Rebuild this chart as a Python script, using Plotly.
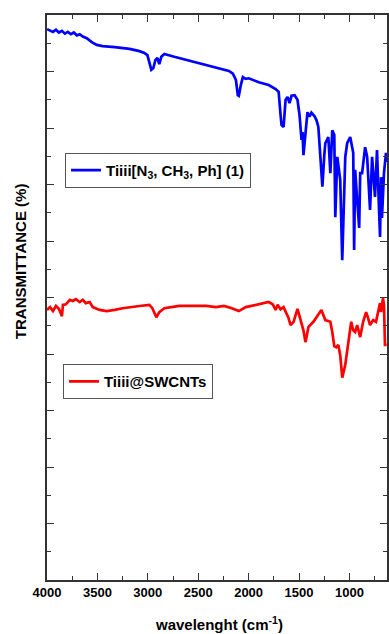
import plotly.graph_objects as go

# ---- data (wavenumber cm-1, transmittance a.u.) ----
blue_wn = [4000, 3970, 3941, 3911, 3882, 3852, 3822, 3793, 3763, 3734, 3704, 3675, 3645, 3606, 3556,
           3507, 3448, 3329, 3181, 3083, 3034, 3004, 2984, 2965, 2945, 2925, 2905, 2886, 2866, 2836,
           2738, 2590, 2442, 2294, 2195, 2156, 2126, 2107, 2097, 2077, 2057, 2028, 1998, 1899, 1801,
           1732, 1702, 1683, 1673, 1653, 1633, 1614, 1594, 1574, 1544, 1515, 1495, 1475, 1465, 1456,
           1436, 1416, 1396, 1377, 1347, 1327, 1308, 1288, 1268, 1249, 1239, 1209, 1189, 1170, 1150,
           1140, 1120, 1091, 1071, 1041, 1022, 992, 962, 953, 943, 923, 903, 893, 874, 844, 824, 795,
           775, 746, 726, 706, 696, 686, 677, 657, 637, 630]
blue_t = [97.5, 97.3, 97.0, 97.4, 96.9, 97.2, 96.7, 97.0, 96.6, 96.9, 96.4, 96.6, 96.2, 95.9, 95.2,
          94.7, 94.5, 94.3, 94.0, 93.6, 93.3, 92.9, 91.7, 90.3, 90.6, 92.0, 92.4, 91.3, 92.6, 93.1,
          92.6, 91.9, 91.2, 90.6, 90.1, 89.6, 88.5, 85.8, 85.7, 87.6, 89.0, 88.7, 88.8, 88.1, 87.6,
          86.9, 86.4, 82.3, 80.5, 80.2, 85.0, 85.5, 84.4, 85.7, 85.8, 85.0, 82.3, 77.9, 79.3, 75.2,
          79.6, 82.8, 82.0, 82.7, 82.1, 81.4, 80.2, 74.3, 69.6, 75.2, 77.3, 78.4, 72.0, 79.6, 78.8,
          64.2, 74.9, 70.8, 56.6, 74.9, 77.3, 78.4, 75.6, 58.4, 72.6, 67.3, 62.3, 72.0, 72.0, 76.6, 74.9, 65.5,
          74.9, 67.8, 76.1, 65.5, 60.7, 71.3, 64.1, 72.0, 75.6, 74.0]

red_wn = [4000, 3970, 3941, 3911, 3882, 3852, 3842, 3813, 3773, 3744, 3714, 3675, 3645, 3615, 3576,
          3546, 3477, 3408, 3329, 3250, 3083, 2984, 2955, 2935, 2915, 2886, 2836, 2688, 2422, 2323,
          2245, 2166, 2097, 2028, 1870, 1801, 1761, 1732, 1712, 1683, 1653, 1633, 1604, 1584, 1554,
          1515, 1475, 1456, 1436, 1406, 1357, 1308, 1278, 1239, 1189, 1170, 1150, 1130, 1110, 1091,
          1071, 1041, 1012, 982, 962, 943, 923, 893, 864, 834, 815, 795, 765, 736, 716, 696, 686,
          667, 657, 647, 637, 630]
red_t = [47.8, 48.3, 47.6, 48.5, 48.0, 46.7, 48.7, 48.8, 49.6, 49.4, 49.7, 49.2, 49.6, 49.0, 49.2,
         48.3, 47.8, 47.6, 47.8, 48.1, 48.5, 48.7, 48.1, 47.3, 46.5, 47.4, 48.1, 48.5, 48.5, 48.3,
         48.5, 48.1, 47.6, 48.3, 49.0, 49.2, 48.8, 47.8, 48.7, 47.9, 48.3, 47.6, 46.4, 45.1, 45.7,
         48.0, 45.7, 44.2, 42.1, 44.8, 45.7, 46.9, 47.8, 46.0, 45.7, 43.9, 41.4, 41.2, 41.6, 39.8,
         35.8, 38.1, 41.6, 45.7, 44.2, 43.9, 45.1, 43.0, 45.7, 47.4, 46.4, 45.1, 46.0, 45.7, 47.4,
         49.0, 47.4, 49.9, 48.7, 41.6, 41.6, 41.6]

blue_name = "Tiiii[N<sub>3</sub>, CH<sub>3</sub>, Ph] (1)"
red_name = "Tiiii@SWCNTs"
x_tick_vals = [4000, 3500, 3000, 2500, 2000, 1500, 1000]
x_tick_text = ["4000", "3500", "3000", "2500", "2000", "1500", "1000"]

FONT = "Liberation Sans, Arial, sans-serif"

fig = go.Figure()
fig.add_trace(go.Scatter(x=blue_wn, y=blue_t, mode="lines", name=blue_name,
                         line=dict(color="#0000FF", width=2.7), legend="legend"))
fig.add_trace(go.Scatter(x=red_wn, y=red_t, mode="lines", name=red_name,
                         line=dict(color="#FF0000", width=2.7), legend="legend2"))

axis_common = dict(showline=True, linecolor="#333333", linewidth=1.5, mirror="ticks",
                   ticks="inside", tickcolor="#333333", tickwidth=1.3, ticklen=7,
                   showgrid=False, zeroline=False)

fig.update_xaxes(range=[4000, 627], tickvals=x_tick_vals, ticktext=x_tick_text,
                 tickfont=dict(family=FONT, size=13, color="#000000", weight="bold"),
                 minor=dict(ticks="inside", ticklen=4, tickwidth=1.3, tickcolor="#333333",
                            tickvals=[3750, 3250, 2750, 2250, 1750, 1250, 750]),
                 **axis_common)
fig.update_yaxes(range=[0, 100], dtick=10, tick0=0, showticklabels=False,
                 minor=dict(ticks="inside", ticklen=4, tickwidth=1.3, tickcolor="#333333", dtick=5),
                 **axis_common)

legend_font = dict(family=FONT, size=15, color="#000000", weight="bold")
fig.update_layout(
    width=389, height=634,
    margin=dict(l=47, r=0, t=15, b=54),
    paper_bgcolor="white", plot_bgcolor="white",
    showlegend=True,
    legend=dict(x=0.053, y=0.756, xanchor="left", yanchor="top", bgcolor="white",
                bordercolor="#555555", borderwidth=1, font=legend_font,
                itemwidth=30, tracegroupgap=0),
    legend2=dict(x=0.047, y=0.382, xanchor="left", yanchor="top", bgcolor="white",
                 bordercolor="#555555", borderwidth=1, font=legend_font,
                 itemwidth=30, tracegroupgap=0),
    annotations=[
        dict(text="TRANSMITTANCE (%)", textangle=-90, xref="paper", yref="paper",
             x=-0.079, y=0.5646, xanchor="center", yanchor="middle", showarrow=False,
             font=dict(family=FONT, size=15, color="#000000", weight="bold")),
        dict(text="wavelenght (cm<sup>-1</sup>)", xref="paper", yref="paper",
             x=0.507, y=-0.077, xanchor="center", yanchor="middle", showarrow=False,
             font=dict(family=FONT, size=15, color="#000000", weight="bold")),
    ],
)

fig.write_html(
    "out.html",
    config={"displayModeBar": False},
    post_script="document.body.style.margin='0';document.body.style.padding='0';"
                "document.documentElement.style.overflow='hidden';",
)
